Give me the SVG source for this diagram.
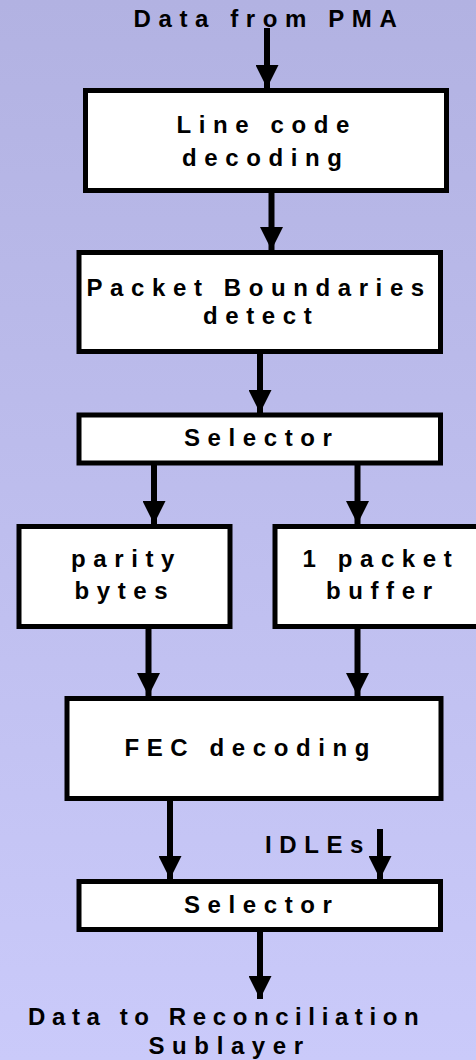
<svg xmlns="http://www.w3.org/2000/svg" width="476" height="1060" viewBox="0 0 476 1060">
  <defs>
    <linearGradient id="bg" x1="0" y1="0" x2="0" y2="1">
      <stop offset="0" stop-color="#b2b2e2"/>
      <stop offset="1" stop-color="#cacafa"/>
    </linearGradient>
    <marker id="head" viewBox="0 0 23 23" refX="23" refY="11.5" markerUnits="userSpaceOnUse" markerWidth="23" markerHeight="23" orient="auto">
      <path d="M0,0 L23,11.5 L0,23 Z" fill="#000"/>
    </marker>
    <style>
      .box { fill: #fff; stroke: #000; stroke-width: 5; }
      .lbl { font-family: "Liberation Sans", Arial, sans-serif; font-weight: bold; font-size: 24px; letter-spacing: 7.6px; fill: #000; }
      .tight { letter-spacing: 6.6px; }
      .wire { stroke: #000; stroke-width: 6; fill: none; marker-end: url(#head); }
    </style>
  </defs>

  <rect width="476" height="1060" fill="url(#bg)"/>

  <!-- connectors -->
  <g id="connectors">
    <path class="wire" d="M267,28 V88"/>
    <path class="wire" d="M271.5,193 V250"/>
    <path class="wire" d="M260,354 V413"/>
    <path class="wire" d="M154,465 V524"/>
    <path class="wire" d="M357.5,465 V524"/>
    <path class="wire" d="M148.5,629 V696"/>
    <path class="wire" d="M357.5,629 V696"/>
    <path class="wire" d="M170,801 V879"/>
    <path class="wire" d="M380,829 V879"/>
    <path class="wire" d="M260,932 V999"/>
  </g>

  <!-- input / output labels -->
  <g id="input">
    <text class="lbl" x="133.5" y="27">Data from PMA</text>
  </g>

  <g id="line-code">
    <rect class="box" x="85.5" y="90.5" width="361" height="100"/>
    <text class="lbl" x="176.5" y="133">Line code</text>
    <text class="lbl" x="182" y="166">decoding</text>
  </g>

  <g id="packet-boundaries">
    <rect class="box" x="79" y="252.5" width="361.5" height="99"/>
    <text class="lbl" x="86.5" y="296">Packet Boundaries</text>
    <text class="lbl" x="203" y="324">detect</text>
  </g>

  <g id="selector-1">
    <rect class="box" x="79" y="415" width="361.5" height="48"/>
    <text class="lbl" x="184" y="446">Selector</text>
  </g>

  <g id="parity-bytes">
    <rect class="box" x="19" y="526.5" width="211" height="100"/>
    <text class="lbl" x="71" y="567">parity</text>
    <text class="lbl" x="74.5" y="599">bytes</text>
  </g>

  <g id="packet-buffer">
    <rect class="box" x="275" y="526.5" width="220" height="100"/>
    <text class="lbl" x="302.5" y="567">1 packet</text>
    <text class="lbl" x="326" y="599">buffer</text>
  </g>

  <g id="fec-decoding">
    <rect class="box" x="67" y="698.5" width="374" height="100"/>
    <text class="lbl" x="124.5" y="756">FEC decoding</text>
  </g>

  <g id="idles">
    <text class="lbl" x="265" y="853">IDLEs</text>
  </g>

  <g id="selector-2">
    <rect class="box" x="79" y="881.5" width="361.5" height="48"/>
    <text class="lbl" x="184" y="913">Selector</text>
  </g>

  <g id="output">
    <text class="lbl tight" x="28" y="1025">Data to Reconciliation</text>
    <text class="lbl" x="148.5" y="1054">Sublayer</text>
  </g>
</svg>
